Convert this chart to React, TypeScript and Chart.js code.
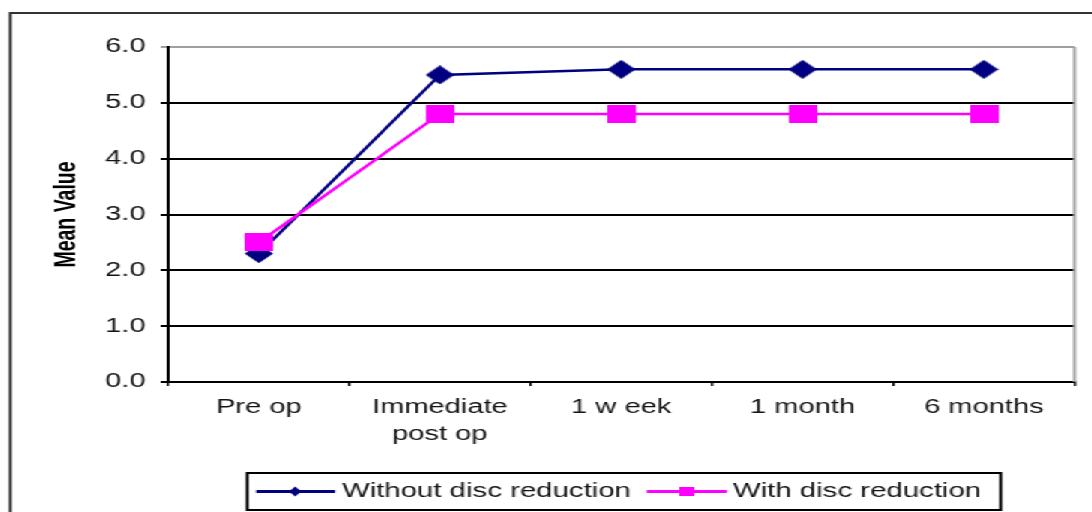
import React, { useEffect, useRef } from "react";
import { Chart, registerables } from "chart.js";

Chart.register(...registerables);

const categories: (string | string[])[] = ["Pre op", ["Immediate", "post op"], "1 w eek", "1 month", "6 months"];
const withoutDisc = [2.3, 5.5, 5.6, 5.6, 5.6];
const withDisc = [2.5, 4.8, 4.8, 4.8, 4.8];
const seriesNames = ["Without disc reduction", "With disc reduction"];
const yTitle = "Mean Value";

const NAVY = "#000080";
const MAGENTA = "#FF00FF";
const FONT = "'Liberation Sans', Arial, sans-serif";
const TEXT = "#141414";
const W = 728;
const H = 512;
const SX = 1092 / W;

function makeDiamond(w: number, h: number, color: string) {
  const c = document.createElement("canvas");
  c.width = w;
  c.height = h;
  const g = c.getContext("2d")!;
  g.fillStyle = color;
  g.beginPath();
  g.moveTo(w / 2, 0);
  g.lineTo(w, h / 2);
  g.lineTo(w / 2, h);
  g.lineTo(0, h / 2);
  g.closePath();
  g.fill();
  return c;
}

function makeRect(w: number, h: number, color: string) {
  const c = document.createElement("canvas");
  c.width = w;
  c.height = h;
  const g = c.getContext("2d")!;
  g.fillStyle = color;
  g.fillRect(0, 0, w, h);
  return c;
}

const decorPlugin = {
  id: "decor",
  afterDraw(chart: any) {
    const ctx = chart.ctx as CanvasRenderingContext2D;
    const area = chart.chartArea;
    ctx.save();
    // outer frame
    ctx.strokeStyle = "#333";
    ctx.lineWidth = 2;
    ctx.beginPath();
    ctx.moveTo(6.7, H);
    ctx.lineTo(6.7, 13);
    ctx.lineTo(W, 13);
    ctx.stroke();
    // plot right border
    ctx.strokeStyle = "#a0a0a0";
    ctx.lineWidth = 2;
    ctx.beginPath();
    ctx.moveTo(area.right, area.top);
    ctx.lineTo(area.right, area.bottom);
    ctx.stroke();
    // legend
    const ly = 491.5;
    ctx.strokeStyle = "#000";
    ctx.lineWidth = 2;
    ctx.strokeRect(164.7, 473, 502.6, 37);
    ctx.lineWidth = 3;
    ctx.strokeStyle = NAVY;
    ctx.beginPath();
    ctx.moveTo(170.7, ly);
    ctx.lineTo(223.3, ly);
    ctx.stroke();
    ctx.fillStyle = NAVY;
    ctx.beginPath();
    ctx.moveTo(196.7, ly - 5);
    ctx.lineTo(200.7, ly);
    ctx.lineTo(196.7, ly + 5);
    ctx.lineTo(192.7, ly);
    ctx.closePath();
    ctx.fill();
    ctx.strokeStyle = MAGENTA;
    ctx.beginPath();
    ctx.moveTo(431.3, ly);
    ctx.lineTo(484.7, ly);
    ctx.stroke();
    ctx.fillStyle = MAGENTA;
    ctx.fillRect(453, ly - 4.5, 10, 9);
    ctx.fillStyle = TEXT;
    ctx.font = `19.6px ${FONT}`;
    ctx.textAlign = "left";
    ctx.textBaseline = "middle";
    ctx.fillText(seriesNames[0], 228, ly);
    ctx.fillText(seriesNames[1], 488.7, ly);
    ctx.restore();
  },
};

export default function App() {
  const ref = useRef<HTMLCanvasElement | null>(null);
  useEffect(() => {
    if (!ref.current) return;
    const diamond = makeDiamond(19, 19, NAVY);
    const square = makeRect(19, 18, MAGENTA);
    const chart = new Chart(ref.current, {
      type: "line",
      data: {
        labels: categories as any,
        datasets: [
          {
            label: seriesNames[0],
            data: withoutDisc,
            borderColor: NAVY,
            backgroundColor: NAVY,
            borderWidth: 2.5,
            pointStyle: diamond as any,
            pointRadius: 9,
            order: 1,
            tension: 0,
          },
          {
            label: seriesNames[1],
            data: withDisc,
            borderColor: MAGENTA,
            backgroundColor: MAGENTA,
            borderWidth: 2.5,
            pointStyle: square as any,
            pointRadius: 9,
            order: 0,
            tension: 0,
          },
        ],
      },
      options: {
        responsive: false,
        animation: false,
        layout: { padding: { top: 47, right: 8, left: 0, bottom: 0 } },
        plugins: { legend: { display: false }, tooltip: { enabled: false } },
        scales: {
          x: {
            offset: true,
            afterFit: (s: any) => {
              s.height = 130;
            },
            grid: {
              offset: true,
              drawOnChartArea: false,
              drawTicks: true,
              tickLength: 4,
              color: "#000",
              lineWidth: 1.5,
            },
            border: { display: true, color: "#000", width: 2 },
            ticks: {
              color: TEXT,
              padding: 8,
              maxRotation: 0,
              autoSkip: false,
              font: { family: FONT, size: 19.4, lineHeight: 1.4 },
            },
          },
          y: {
            min: 0,
            max: 6,
            afterFit: (s: any) => {
              s.width = 112;
            },
            grid: {
              color: (c: any) => (c.tick && c.tick.value === 6 ? "#a0a0a0" : "#000"),
              lineWidth: 2,
              tickLength: 5,
              drawTicks: true,
            },
            border: { display: true, color: "#000", width: 2 },
            ticks: {
              stepSize: 1,
              color: TEXT,
              padding: 10,
              font: { family: FONT, size: 19.4 },
              callback: (v: any) => Number(v).toFixed(1),
            },
            title: {
              display: true,
              text: yTitle,
              color: "#000",
              font: { family: FONT, size: 19.5, weight: "bold" },
              padding: { top: 33.4, bottom: 0 },
            },
          },
        },
      },
      plugins: [decorPlugin],
    });
    return () => chart.destroy();
  }, []);

  return (
    <div
      style={{
        position: "absolute",
        left: 0,
        top: 0,
        width: W,
        height: H,
        transform: `scaleX(${SX})`,
        transformOrigin: "0 0",
        background: "#fff",
      }}
    >
      <canvas ref={ref} width={W} height={H} style={{ width: W, height: H, display: "block" }} />
    </div>
  );
}
